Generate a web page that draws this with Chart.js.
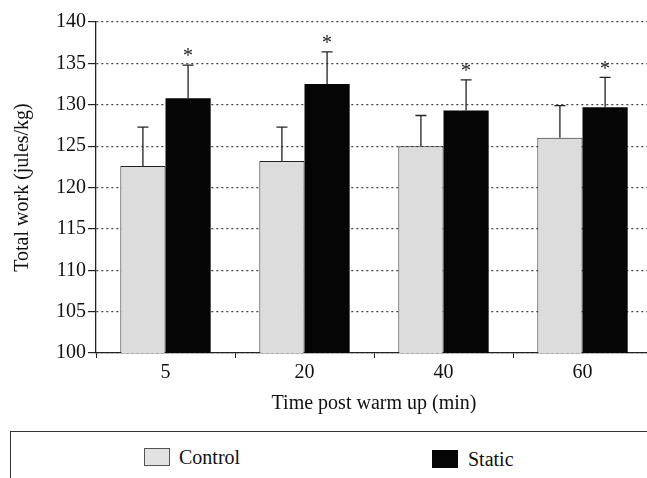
<!DOCTYPE html>
<html>
<head>
<meta charset="utf-8">
<script src="https://cdn.jsdelivr.net/npm/chart.js@4"></script>
<style>
    html, body { margin: 0; padding: 0; background: #fff; overflow: hidden; }
    #wrap { position: absolute; left: 0; top: 0; width: 652px; height: 420px; }
    #legend {
        position: absolute; left: 10px; top: 431px; width: 700px; height: 80px;
        border: 1px solid #333; border-width: 1.5px 0 0 1.5px; box-sizing: border-box;
        font-family: "Liberation Serif", serif; font-size: 20px; color: #111;
    }
    .item { position: absolute; height: 18px; line-height: 18px; }
    .box { position: absolute; top: 0; width: 26px; height: 18px; box-sizing: border-box; border: 1px solid #555; }
    .lbl { position: absolute; top: 0px; white-space: nowrap; }
</style>
</head>
<body>
<div id="wrap"><canvas id="chart"></canvas></div>
<div id="legend">
    <div class="item" style="left:133px;top:16px"><div class="box" style="background:#e2e2e2"></div><div class="lbl" style="left:35px">Control</div></div>
    <div class="item" style="left:421px;top:18px"><div class="box" style="background:#050505;border-color:#050505"></div><div class="lbl" style="left:36px">Static</div></div>
</div>
<script>
const categories = ['5', '20', '40', '60'];
const controlValues = [122.6, 123.2, 125.0, 126.0];
const staticValues = [130.8, 132.5, 129.3, 129.7];
// upper error bars (SD)
const controlErr = [4.7, 4.1, 3.7, 3.9];
const staticErr = [4.0, 3.9, 3.7, 3.6];
const staticSignificant = [true, true, true, true];

const serif = '"Liberation Serif", "Times New Roman", serif';

// draws the error bars and the asterisks on top of the bars
const errorBarPlugin = {
    id: 'errorBars',
    afterDatasetsDraw(chart) {
        const ctx = chart.ctx;
        const yScale = chart.scales.y;
        const errs = [controlErr, staticErr];
        ctx.save();
        chart.data.datasets.forEach((ds, di) => {
            const meta = chart.getDatasetMeta(di);
            meta.data.forEach((bar, i) => {
                const top = yScale.getPixelForValue(ds.data[i] + errs[di][i]);
                ctx.strokeStyle = '#222';
                ctx.lineWidth = 1.3;
                ctx.beginPath();
                ctx.moveTo(bar.x, bar.y);
                ctx.lineTo(bar.x, top);
                ctx.moveTo(bar.x - 5.5, top);
                ctx.lineTo(bar.x + 5.5, top);
                ctx.stroke();
                if (di === 1 && staticSignificant[i]) {
                    ctx.fillStyle = '#222';
                    ctx.font = '20px ' + serif;
                    ctx.textAlign = 'center';
                    ctx.textBaseline = 'middle';
                    ctx.fillText('*', bar.x, top - 8);
                }
            });
        });
        ctx.restore();
    }
};

new Chart(document.getElementById('chart'), {
    type: 'bar',
    data: {
        labels: categories,
        datasets: [
            {
                label: 'Control',
                data: controlValues,
                backgroundColor: '#dcdcdc',
                borderColor: '#222',
                borderWidth: 1,
                categoryPercentage: 0.65,
                barPercentage: 1
            },
            {
                label: 'Static',
                data: staticValues,
                backgroundColor: '#050505',
                borderColor: '#050505',
                borderWidth: 0,
                categoryPercentage: 0.65,
                barPercentage: 1
            }
        ]
    },
    options: {
        responsive: true,
        maintainAspectRatio: false,
        animation: false,
        layout: { padding: { top: 22, right: 0, left: 0, bottom: 0 } },
        plugins: {
            legend: { display: false },
            tooltip: { enabled: false }
        },
        scales: {
            x: {
                grid: {
                    drawOnChartArea: false,
                    drawTicks: true,
                    tickLength: 5,
                    tickColor: '#222'
                },
                border: { color: '#222', width: 1.3 },
                ticks: {
                    color: '#111',
                    padding: 3,
                    font: { family: serif, size: 20 }
                },
                title: {
                    display: true,
                    text: 'Time post warm up (min)',
                    color: '#111',
                    font: { family: serif, size: 20 },
                    padding: { top: 0, bottom: 4 }
                },
                afterFit(scale) { scale.height = 67; }
            },
            y: {
                min: 100,
                max: 140,
                ticks: {
                    stepSize: 5,
                    color: '#111',
                    padding: 2,
                    font: { family: serif, size: 20 }
                },
                grid: {
                    color: '#444',
                    tickBorderDash: [],
                    tickColor: '#222',
                    tickLength: 8,
                    lineWidth: 1.2
                },
                border: { color: '#222', width: 1.3, dash: [2, 3] },
                title: {
                    display: true,
                    text: 'Total work (jules/kg)',
                    color: '#111',
                    font: { family: serif, size: 20 },
                    padding: { top: 11, bottom: 0 }
                },
                afterFit(scale) { scale.width = 96; }
            }
        }
    },
    plugins: [errorBarPlugin]
});
</script>
</body>
</html>
